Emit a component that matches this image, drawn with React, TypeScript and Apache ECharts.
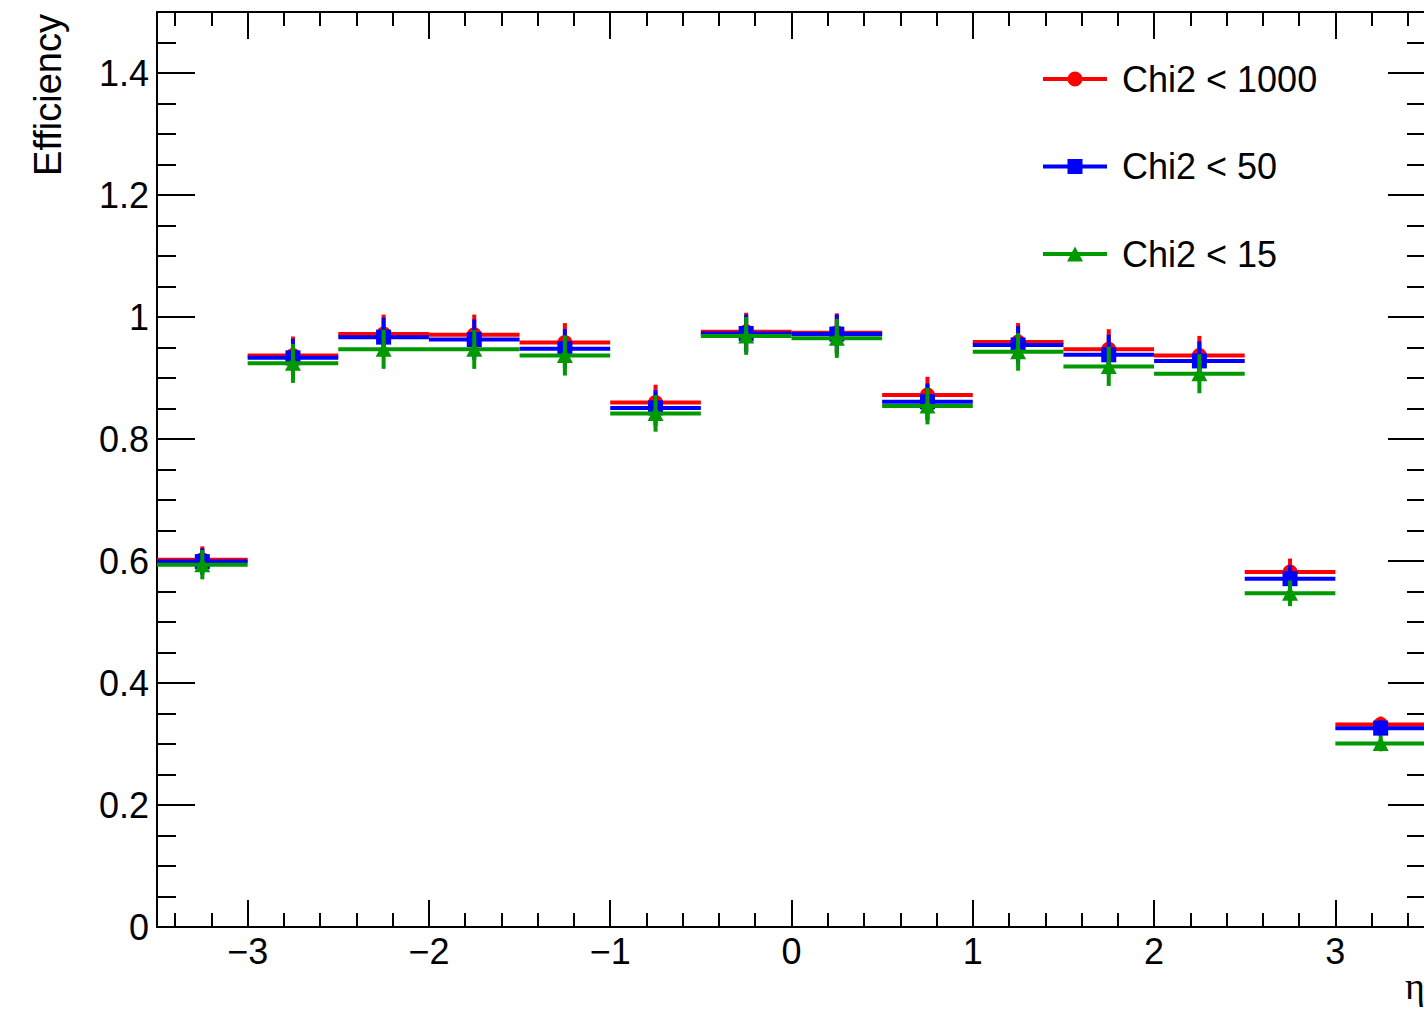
import React, { useEffect, useRef } from "react";
import * as echarts from "echarts";

// ---- data ----
const etaCenters = [-3.25, -2.75, -2.25, -1.75, -1.25, -0.75, -0.25, 0.25, 0.75, 1.25, 1.75, 2.25, 2.75, 3.25];
const binHalfWidth = 0.25;

const effChi1000 = [0.602, 0.937, 0.972, 0.971, 0.958, 0.860, 0.976, 0.974, 0.872, 0.959, 0.947, 0.937, 0.582, 0.332];
const errChi1000 = [0.022, 0.031, 0.032, 0.033, 0.032, 0.029, 0.031, 0.032, 0.030, 0.031, 0.033, 0.032, 0.022, 0.013];

const effChi50 = [0.599, 0.933, 0.967, 0.963, 0.948, 0.851, 0.973, 0.972, 0.861, 0.954, 0.938, 0.928, 0.571, 0.326];
const errChi50 = [0.022, 0.031, 0.032, 0.033, 0.032, 0.029, 0.031, 0.032, 0.030, 0.031, 0.033, 0.032, 0.022, 0.013];

const effChi15 = [0.594, 0.924, 0.947, 0.947, 0.937, 0.842, 0.969, 0.965, 0.854, 0.943, 0.919, 0.907, 0.547, 0.301];
const errChi15 = [0.024, 0.032, 0.032, 0.032, 0.033, 0.030, 0.031, 0.032, 0.030, 0.031, 0.032, 0.032, 0.021, 0.013];

const seriesNames = ["Chi2 < 1000", "Chi2 < 50", "Chi2 < 15"];
const xMajorTicks = [-3, -2, -1, 0, 1, 2, 3];
const yMajorTicks = [0, 0.2, 0.4, 0.6, 0.8, 1, 1.2, 1.4];
const xAxisTitle = "η";
const yAxisTitle = "Efficiency";

// minor tick positions
const xMinorTicks: number[] = [];
for (let i = -17; i <= 17; i++) {
  if (i % 5 !== 0) xMinorTicks.push(Math.round((i / 5) * 10) / 10);
}
const yMinorTicks: number[] = [];
for (let i = 1; i < 30; i++) {
  if (i % 4 !== 0) yMinorTicks.push(Math.round(i * 5) / 100);
}

const COLORS = ["#ff0000", "#0000ff", "#009900"];
const MARKERS = ["circle", "square", "triangle"];
const FONT = '"Liberation Sans", Arial, Helvetica, sans-serif';

const LEGEND_ICONS = [
  "path://M0 6H64V10H0Z M24.5 8A7.5 7.5 0 1 1 39.5 8A7.5 7.5 0 1 1 24.5 8Z",
  "path://M0 6H64V10H0Z M24.5 0.5H39.5V15.5H24.5Z",
  "path://M0 6H64V10H0Z M32 0.5L40 15.5H24Z",
];

function makeSeries(name: string, eff: number[], err: number[], idx: number) {
  const color = COLORS[idx];
  const marker = MARKERS[idx];
  return {
    type: "custom",
    name,
    xAxisIndex: 0,
    yAxisIndex: 0,
    itemStyle: { color },
    encode: { x: 0, y: 1 },
    data: etaCenters.map((x, i) => [x, eff[i], err[i]]),
    renderItem: (params: any, api: any) => {
      const x = api.value(0);
      const y = api.value(1);
      const e = api.value(2);
      const pL = api.coord([x - binHalfWidth, y]);
      const pR = api.coord([x + binHalfWidth, y]);
      const pT = api.coord([x, y + e]);
      const pB = api.coord([x, y - e]);
      const c = api.coord([x, y]);
      const children: any[] = [
        {
          type: "line",
          shape: { x1: pL[0], y1: pL[1], x2: pR[0], y2: pR[1] },
          style: { stroke: color, lineWidth: 4 },
        },
        {
          type: "line",
          shape: { x1: pT[0], y1: pT[1], x2: pB[0], y2: pB[1] },
          style: { stroke: color, lineWidth: 4 },
        },
      ];
      if (marker === "circle") {
        children.push({ type: "circle", shape: { cx: c[0], cy: c[1], r: 7.5 }, style: { fill: color } });
      } else if (marker === "square") {
        children.push({ type: "rect", shape: { x: c[0] - 7.5, y: c[1] - 7.5, width: 15, height: 15 }, style: { fill: color } });
      } else {
        children.push({
          type: "polygon",
          shape: { points: [[c[0], c[1] - 7.5], [c[0] + 8, c[1] + 7.5], [c[0] - 8, c[1] + 7.5]] },
          style: { fill: color },
        });
      }
      return { type: "group", children };
    },
  };
}

const fmtX = (v: number) => (v < 0 ? "\u2212" + Math.abs(v) : String(v));

export default function App() {
  const ref = useRef<HTMLDivElement>(null);
  useEffect(() => {
    if (!ref.current) return;
    const chart = echarts.init(ref.current, null, { renderer: "svg" });
    const axisLineStyle = { color: "#000", width: 2 };
    const tickLine = { color: "#000", width: 2 };
    const xBase = { type: "value", min: -3.5, max: 3.5, splitLine: { show: false } };
    const yBase = { type: "value", min: 0, max: 1.5, splitLine: { show: false } };
    const option: any = {
      animation: false,
      backgroundColor: "#fff",
      textStyle: { fontFamily: FONT },
      grid: { left: 157, right: 14, top: 12, bottom: 84, containLabel: false },
      xAxis: [
        {
          ...xBase,
          position: "bottom",
          axisLine: { show: true, onZero: false, lineStyle: axisLineStyle },
          axisTick: { show: true, inside: true, length: 27, customValues: xMajorTicks, lineStyle: tickLine },
          axisLabel: { show: true, customValues: xMajorTicks, formatter: fmtX, fontSize: 36, color: "#000", fontFamily: FONT, margin: 6 },
        },
        {
          ...xBase,
          position: "bottom",
          axisLine: { show: false, onZero: false },
          axisTick: { show: true, inside: true, length: 14, customValues: xMinorTicks, lineStyle: tickLine },
          axisLabel: { show: false },
        },
        {
          ...xBase,
          position: "top",
          axisLine: { show: true, onZero: false, lineStyle: axisLineStyle },
          axisTick: { show: true, inside: true, length: 27, customValues: xMajorTicks, lineStyle: tickLine },
          axisLabel: { show: false },
        },
        {
          ...xBase,
          position: "top",
          axisLine: { show: false, onZero: false },
          axisTick: { show: true, inside: true, length: 14, customValues: xMinorTicks, lineStyle: tickLine },
          axisLabel: { show: false },
        },
      ],
      yAxis: [
        {
          ...yBase,
          position: "left",
          axisLine: { show: true, onZero: false, lineStyle: axisLineStyle },
          axisTick: { show: true, inside: true, length: 38, customValues: yMajorTicks, lineStyle: tickLine },
          axisLabel: { show: true, customValues: yMajorTicks, fontSize: 36, color: "#000", fontFamily: FONT, margin: 8 },
        },
        {
          ...yBase,
          position: "left",
          axisLine: { show: false, onZero: false },
          axisTick: { show: true, inside: true, length: 19, customValues: yMinorTicks, lineStyle: tickLine },
          axisLabel: { show: false },
        },
        {
          ...yBase,
          position: "right",
          axisLine: { show: true, onZero: false, lineStyle: axisLineStyle },
          axisTick: { show: true, inside: true, length: 38, customValues: yMajorTicks, lineStyle: tickLine },
          axisLabel: { show: false },
        },
        {
          ...yBase,
          position: "right",
          axisLine: { show: false, onZero: false },
          axisTick: { show: true, inside: true, length: 19, customValues: yMinorTicks, lineStyle: tickLine },
          axisLabel: { show: false },
        },
      ],
      legend: {
        orient: "vertical",
        left: 1043,
        top: 59,
        padding: 0,
        itemGap: 47.5,
        itemWidth: 64,
        itemHeight: 15,
        selectedMode: false,
        itemStyle: { borderWidth: 0 },
        textStyle: { fontSize: 36, color: "#000", fontFamily: FONT, lineHeight: 40, padding: [0, 0, 0, 10] },
        data: seriesNames.map((name, i) => ({ name, icon: LEGEND_ICONS[i] })),
      },
      graphic: [
        {
          type: "text",
          x: 48,
          y: 14,
          rotation: Math.PI / 2,
          style: { text: yAxisTitle, font: `38px ${FONT}`, align: "right", verticalAlign: "middle", fill: "#000" },
        },
        {
          type: "text",
          x: 1405,
          y: 986,
          style: { text: xAxisTitle, font: '38px "Liberation Serif", serif', align: "left", verticalAlign: "middle", fill: "#000" },
        },
      ],
      series: [
        makeSeries(seriesNames[0], effChi1000, errChi1000, 0),
        makeSeries(seriesNames[1], effChi50, errChi50, 1),
        makeSeries(seriesNames[2], effChi15, errChi15, 2),
      ],
    };
    chart.setOption(option);
    return () => chart.dispose();
  }, []);
  return (
    <div style={{ position: "fixed", left: 0, top: 0, width: 1424, height: 1011, overflow: "hidden", background: "#fff" }}>
      <div ref={ref} style={{ width: 1440, height: 1011 }} />
    </div>
  );
}
